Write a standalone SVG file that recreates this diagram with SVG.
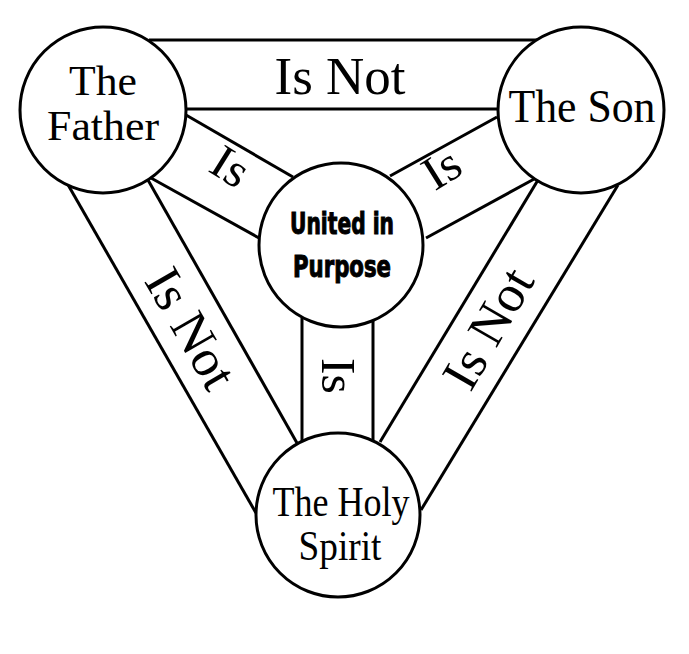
<svg xmlns="http://www.w3.org/2000/svg" width="689" height="654" viewBox="0 0 689 654">
<style>
.l{stroke:#000;stroke-width:3;fill:none}
.c{stroke:#000;stroke-width:3;fill:#fff}
.t{font-family:"Liberation Serif","Times New Roman",serif;fill:#000;text-anchor:middle}
.b{font-family:"DejaVu Sans Condensed","DejaVu Sans",sans-serif;font-weight:bold;fill:#000;text-anchor:middle;stroke:#000;stroke-width:1}
</style>
<rect width="689" height="654" fill="#fff"/>
<g id="connectors">
<line class="l" x1="149" y1="40" x2="538" y2="40"/>
<line class="l" x1="186" y1="109" x2="497" y2="109"/>
<line class="l" x1="186" y1="115" x2="293" y2="177"/>
<line class="l" x1="151" y1="178" x2="259" y2="238"/>
<line class="l" x1="497" y1="117" x2="390" y2="176"/>
<line class="l" x1="536" y1="178" x2="426" y2="238"/>
<line class="l" x1="302" y1="318" x2="302" y2="442"/>
<line class="l" x1="373" y1="318" x2="373" y2="442"/>
<line class="l" x1="67" y1="183" x2="256" y2="513"/>
<line class="l" x1="148" y1="180" x2="297" y2="443"/>
<line class="l" x1="538" y1="180" x2="380" y2="442"/>
<line class="l" x1="618" y1="185" x2="421" y2="510"/>
<text class="t" x="340" y="94" font-size="52" textLength="131" lengthAdjust="spacingAndGlyphs">Is Not</text>
<text class="t" font-size="48" transform="translate(222,180) rotate(32)" textLength="36" lengthAdjust="spacingAndGlyphs">Is</text>
<text class="t" font-size="48" transform="translate(450,182) rotate(-32)" textLength="36" lengthAdjust="spacingAndGlyphs">Is</text>
<text class="t" font-size="48" transform="translate(322,376) rotate(90)" textLength="36" lengthAdjust="spacingAndGlyphs">Is</text>
<text class="t" font-size="52" transform="translate(176,337) rotate(60)" textLength="130" lengthAdjust="spacingAndGlyphs">Is Not</text>
<text class="t" font-size="52" transform="translate(503,337) rotate(-60)" textLength="130" lengthAdjust="spacingAndGlyphs">Is Not</text>
</g>
<g id="father"><circle class="c" cx="103" cy="110" r="83"/>
<text class="t" font-size="42" x="103" y="95" textLength="68" lengthAdjust="spacingAndGlyphs">The</text>
<text class="t" font-size="42" x="103" y="140" textLength="112" lengthAdjust="spacingAndGlyphs">Father</text></g>
<g id="son"><circle class="c" cx="581" cy="110" r="83"/>
<text class="t" font-size="46" x="582" y="122" textLength="147" lengthAdjust="spacingAndGlyphs">The Son</text></g>
<g id="center"><circle class="c" cx="341" cy="245" r="82"/>
<text class="b" font-size="30" x="342" y="234" textLength="104" lengthAdjust="spacingAndGlyphs">United in</text>
<text class="b" font-size="30" x="342" y="277" textLength="98" lengthAdjust="spacingAndGlyphs">Purpose</text></g>
<g id="spirit"><circle class="c" cx="338" cy="515" r="82"/>
<text class="t" font-size="42" x="341" y="516" textLength="137" lengthAdjust="spacingAndGlyphs">The Holy</text>
<text class="t" font-size="42" x="340" y="560" textLength="83" lengthAdjust="spacingAndGlyphs">Spirit</text></g>
</svg>
